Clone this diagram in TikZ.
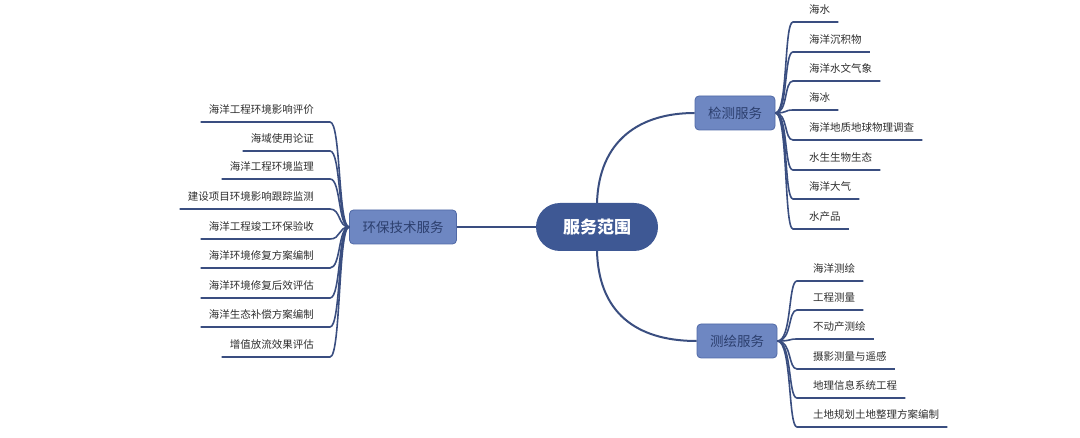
\documentclass[tikz,border=0pt]{standalone}
\usepackage{fontspec}
\setmainfont{Noto Sans CJK SC}
\usepackage{tikz}
\definecolor{navy}{HTML}{3E5894}
\definecolor{midblue}{HTML}{6E87C2}
\definecolor{edgeblue}{HTML}{5069A6}
\definecolor{inkblue}{HTML}{2C3F6E}
\definecolor{linkblue}{HTML}{3A4E80}
\definecolor{leafgray}{HTML}{2E2E2E}

\begin{document}
\begin{tikzpicture}[x = 1pt, y = -1pt,
  root/.style = {fill = navy, text = white, font = \fontsize{17}{17}\selectfont\bfseries, rounded corners = 24pt, minimum width = 122pt, minimum height = 48pt},
  sub/.style = {fill = midblue, draw = edgeblue, line width = .8pt, text = inkblue, font = \fontsize{13.5}{13.5}\selectfont, rounded corners = 4pt, inner xsep = 13pt, minimum height = 34pt},
  leaf/.style = {text = leafgray, font = \fontsize{10.5}{10.5}\selectfont, inner xsep = 8pt, inner ysep = 7pt},
  branch/.style = {draw = linkblue, line width = 2pt},
  twig/.style = {draw = linkblue, line width = 1.6pt}]
 \useasboundingbox (0, 0) rectangle (1080, 438);
 \node[root] (range) at (597, 227) {服务范围};
 \node[sub] (env) at (403, 227) {环保技术服务};
 \node[sub] (test) at (735, 113) {检测服务};
 \node[sub] (map) at (737, 341) {测绘服务};
 \draw[branch] (range.west) -- (env.east);
 \draw[branch] (range.north) .. controls (599, 140) and (640, 113) .. (test.west);
 \draw[branch] (range.south) .. controls (599, 320) and (645, 341) .. (map.west);
 \foreach \y/\t [count = \i] in {122/海洋工程环境影响评价, 151/海域使用论证, 179/海洋工程环境监理, 209/建设项目环境影响跟踪监测, 239/海洋工程竣工环保验收, 268/海洋环境修复方案编制, 298/海洋环境修复后效评估, 327/海洋生态补偿方案编制, 357/增值放流效果评估} {
  \node[leaf, anchor = south east] (e\i) at (322, \y) {\t};
  \draw[twig] (e\i.south west) -- ([xshift = 8pt]e\i.south east) .. controls (341, \y) and (338, 227) .. (env.west);
 }
 \foreach \y/\t [count = \i] in {22/海水, 52/海洋沉积物, 81/海洋水文气象, 110/海冰, 140/海洋地质地球物理调查, 170/水生生物生态, 199/海洋大气, 229/水产品} {
  \node[leaf, anchor = south west] (t\i) at (801, \y) {\t};
  \draw[twig] (test.east) .. controls (788, 113) and (784, \y) .. ([xshift = -8pt]t\i.south west) -- (t\i.south east);
 }
 \foreach \y/\t [count = \i] in {281/海洋测绘, 310/工程测量, 339/不动产测绘, 369/摄影测量与遥感, 398/地理信息系统工程, 427/土地规划土地整理方案编制} {
  \node[leaf, anchor = south west] (m\i) at (805, \y) {\t};
  \draw[twig] (map.east) .. controls (792, 341) and (788, \y) .. ([xshift = -8pt]m\i.south west) -- (m\i.south east);
 }
\end{tikzpicture}
\end{document}
